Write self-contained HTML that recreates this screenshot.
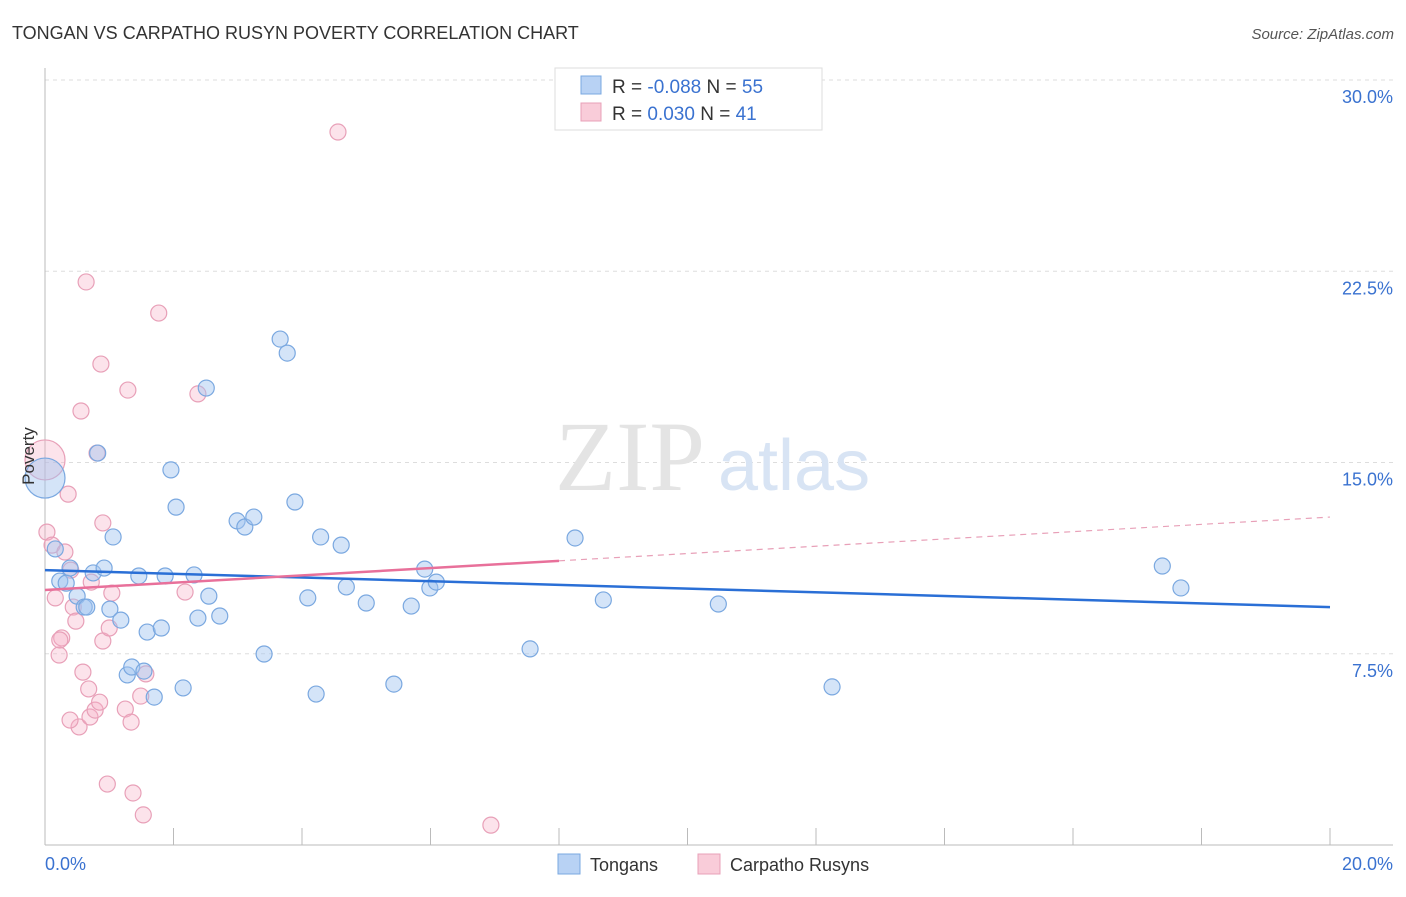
<!DOCTYPE html>
<html><head><meta charset="utf-8"><style>
body{margin:0;background:#fff;font-family:"Liberation Sans",sans-serif;}
</style></head><body>
<svg width="1406" height="892" xmlns="http://www.w3.org/2000/svg" font-family="Liberation Sans, sans-serif">
<text x="12" y="39" font-size="18" fill="#333">TONGAN VS CARPATHO RUSYN POVERTY CORRELATION CHART</text>
<text x="1394" y="39" font-size="15" fill="#555" font-style="italic" text-anchor="end">Source: ZipAtlas.com</text>
<g id="grid"></g>
<g id="axes"></g>
<text x="555" y="490" font-size="100" fill="#e4e4e4" font-family="Liberation Serif, serif">ZIP</text>
<text x="718" y="490" font-size="72" fill="#d8e4f4">atlas</text>
<g id="pts"></g>
<g id="trend"></g>
<text x="34" y="456" font-size="17" fill="#333" text-anchor="middle" transform="rotate(-90 34 456)">Poverty</text>
<text x="45" y="870" font-size="18" fill="#3a72d0">0.0%</text>
<text x="1393" y="870" font-size="18" fill="#3a72d0" text-anchor="end">20.0%</text>
<g>
<rect x="555" y="68" width="267" height="62" fill="#fff" stroke="#ddd"/>
<rect x="581" y="76" width="20" height="18" fill="#b8d2f4" stroke="#7aa8e0"/>
<rect x="581" y="103" width="20" height="18" fill="#f9ccd9" stroke="#e8a0b8"/>
<text x="612" y="93" font-size="19" fill="#333">R = <tspan fill="#3a72d0">-0.088</tspan>   N = <tspan fill="#3a72d0">55</tspan></text>
<text x="612" y="120" font-size="19" fill="#333">R =   <tspan fill="#3a72d0">0.030</tspan>   N =  <tspan fill="#3a72d0">41</tspan></text>
</g>
<g>
<rect x="558" y="854" width="22" height="20" fill="#b8d2f4" stroke="#7aa8e0"/>
<text x="590" y="871" font-size="18" fill="#333">Tongans</text>
<rect x="698" y="854" width="22" height="20" fill="#f9ccd9" stroke="#e8a0b8"/>
<text x="730" y="871" font-size="18" fill="#333">Carpatho Rusyns</text>
</g>
</svg>
<script>
const yTicks=[7.5,15,22.5,30];
const yTickLabels=["7.5%","15.0%","22.5%","30.0%"];
const xTicks=[0,2,4,6,8,10,12,14,16,18,20];
const tonganX=[0,.16,.23,.33,.39,.5,.61,.65,.75,.82,.92,1.01,1.06,1.18,1.28,1.35,1.46,1.54,1.59,1.70,1.81,1.87,1.96,2.04,2.15,2.32,2.38,2.51,2.55,2.72,2.99,3.11,3.25,3.41,3.66,3.77,3.89,4.09,4.22,4.29,4.61,4.69,5.00,5.43,5.70,5.91,5.99,6.09,7.55,8.25,8.69,10.48,12.25,17.39,17.68];
const tonganY=[14.39,11.61,10.35,10.27,10.86,9.76,9.33,9.33,10.67,15.37,10.86,9.25,12.08,8.82,6.67,6.98,10.55,6.82,8.35,5.80,8.51,10.55,14.71,13.25,6.16,10.59,8.90,17.92,9.76,8.98,12.71,12.47,12.86,7.49,19.84,19.29,13.45,9.69,5.92,12.08,11.76,10.12,9.49,6.31,9.37,10.82,10.08,10.31,7.69,12.04,9.61,9.45,6.20,10.94,10.08];
const rusynX=[0,.03,.11,.16,.22,.26,.31,.36,.40,.44,.48,.53,.56,.59,.64,.68,.70,.72,.78,.81,.87,.90,.90,.97,1.0,1.04,1.25,1.29,1.34,1.37,1.49,1.53,1.57,1.77,2.18,2.38,4.56,6.94,.39,.23,.85];
const rusynY=[15.10,12.27,11.76,9.69,7.45,8.12,11.49,13.76,10.78,9.33,8.78,4.63,17.02,6.78,22.08,6.12,5.02,10.31,5.29,15.37,18.86,12.63,8.0,2.39,8.51,9.88,5.33,17.84,4.82,2.04,5.84,1.18,6.71,20.86,9.92,17.69,27.96,0.78,4.90,8.04,5.6];
const tonganTrend=[10.78,9.33];
const rusynTrend=[10.0,12.86];
const NS="http://www.w3.org/2000/svg";
const X=v=>45+v*64.25, Y=v=>845-v*25.5;
function mk(p,t,a){const e=document.createElementNS(NS,t);for(const k in a)e.setAttribute(k,a[k]);document.getElementById(p).appendChild(e);return e;}
yTicks.forEach((t,i)=>{
 const g=mk('grid','line',{x1:45,x2:1393,y1:Y(t),y2:Y(t),stroke:'#ddd','stroke-dasharray':'4 4'});
 
 
 const l=mk('grid','text',{x:1393,y:Y(t)+23,'font-size':18,fill:'#3a72d0','text-anchor':'end'});
 l.textContent=yTickLabels[i];
 
 
});
mk('axes','line',{x1:45,x2:45,y1:68,y2:845,stroke:'#bbb'});
mk('axes','line',{x1:45,x2:1393,y1:845,y2:845,stroke:'#bbb'});
xTicks.forEach(t=>{
 const e=mk('axes','line',{x1:X(t),x2:X(t),y1:828,y2:845,stroke:'#bbb'});
 
 
});
rusynX.forEach((x,i)=>{
 const c=mk('pts','circle',{cx:X(x),cy:Y(rusynY[i]),r:i==0?20:8,fill:'rgba(245,175,198,0.35)',stroke:'#e8a0b8','stroke-width':1.2});
 
 
});
tonganX.forEach((x,i)=>{
 const c=mk('pts','circle',{cx:X(x),cy:Y(tonganY[i]),r:i==0?20:8,fill:'rgba(160,196,240,0.45)',stroke:'#7aa8e0','stroke-width':1.2});
 
 
});
const tl=mk('trend','line',{x1:X(0),y1:Y(tonganTrend[0]),x2:X(20),y2:Y(tonganTrend[1]),stroke:'#2a6fd6','stroke-width':2.5});


const rAt=x=>rusynTrend[0]+(rusynTrend[1]-rusynTrend[0])*x/20;
const rl=mk('trend','line',{x1:X(0),y1:Y(rAt(0)),x2:X(8),y2:Y(rAt(8)),stroke:'#e8709a','stroke-width':2.5});


const rd=mk('trend','line',{x1:X(8),y1:Y(rAt(8)),x2:X(20),y2:Y(rAt(20)),stroke:'#e8a0b8','stroke-width':1.2,'stroke-dasharray':'6 5'});


</script>
</body></html>
